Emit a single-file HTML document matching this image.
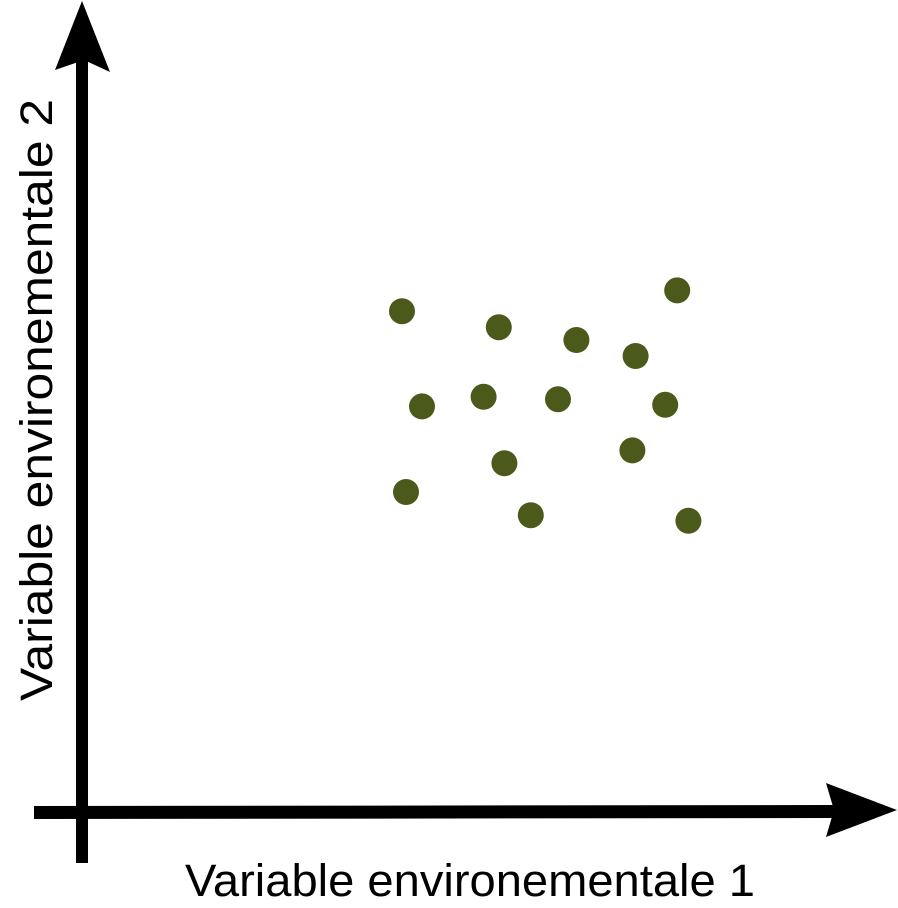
<!DOCTYPE html>
<html><head><meta charset="utf-8"><style>
html,body{margin:0;padding:0;background:#fff;}
svg{display:block;}
text{font-family:"Liberation Sans",sans-serif;}
</style></head><body>
<svg id="chart" width="898" height="908" viewBox="0 0 898 908">
<g id="axes">
<rect x="76" y="60" width="12" height="803" fill="#000"/>
<polygon points="82,1 110,72 84,60 55,70" fill="#000"/>
<polygon points="34,806 835,805 835,818 34,819" fill="#000"/>
<polygon points="897,810 826,837 834,810 826,783" fill="#000"/>
<text x="470" y="896" font-size="45" text-anchor="middle" textLength="570" lengthAdjust="spacingAndGlyphs">Variable environementale 1</text>
<text transform="translate(52,400) rotate(-90)" font-size="45" text-anchor="middle" textLength="602" lengthAdjust="spacingAndGlyphs">Variable environementale 2</text>
</g>
<g id="points"></g>
</svg>
<script>
const xValues = [40.0, 74.4, 52.1, 61.8, 69.2, 42.5, 50.2, 59.5, 72.9, 68.8, 52.8, 40.5, 56.1, 75.8];
const yValues = [62.6, 65.2, 60.6, 59.0, 57.0, 50.7, 51.9, 51.6, 50.9, 45.2, 43.6, 40.0, 37.1, 36.4];
const ns = 'http://www.w3.org/2000/svg';
function xScale(v){ return 82 + v * 8; }
function yScale(v){ return 812 - v * 8; }
const g = document.getElementById('points');
for (let i = 0; i < xValues.length; i++) {
  const c = document.createElementNS(ns, 'circle');
  c.setAttribute('cx', xScale(xValues[i]));
  c.setAttribute('cy', yScale(yValues[i]));
  c.setAttribute('r', 13);
  c.setAttribute('fill', '#4b5a1b');
  
  
  g.appendChild(c);
}
</script>
</body></html>
